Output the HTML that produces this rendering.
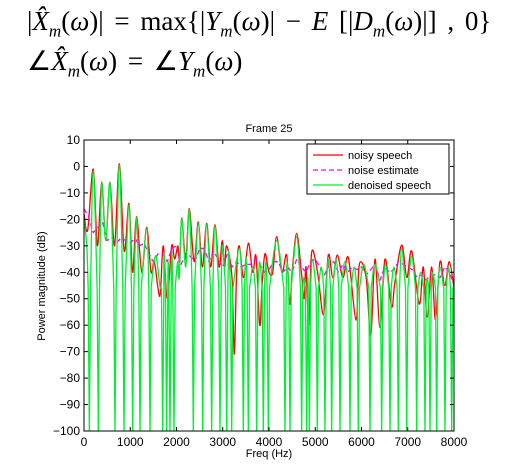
<!DOCTYPE html>
<html><head><meta charset="utf-8"><style>
body{margin:0;background:#fff;width:513px;height:468px;overflow:hidden}
.eq{position:absolute;left:27px;font-family:"Liberation Serif",serif;font-size:27px;color:#000;white-space:nowrap;word-spacing:4px}
.eq sub{font-size:17px}
</style></head><body>
<div class="eq" style="top:6px">|<i>X̂<sub>m</sub></i>(<i>ω</i>)| = max{|<i>Y<sub>m</sub></i>(<i>ω</i>)| − <i>E</i> [|<i>D<sub>m</sub></i>(<i>ω</i>)|] , 0}</div>
<div class="eq" style="top:46px">∠<i>X̂<sub>m</sub></i>(<i>ω</i>) = ∠<i>Y<sub>m</sub></i>(<i>ω</i>)</div>
<svg id="chart" width="513" height="468" style="position:absolute;left:0;top:0" font-family="Liberation Sans, sans-serif"></svg>
<script>
const xTicks=[0,1000,2000,3000,4000,5000,6000,7000,8000];
const yTicks=[10,0,-10,-20,-30,-40,-50,-60,-70,-80,-90,-100];
const noisyFreq=[0,80,200,290,382,470,562,660,764,870,973,1050,1137,1250,1355,1450,1520,1600,1650,1715,1800,1895,1960,2030,2070,2112,2200,2277,2380,2472,2560,2652,2740,2832,2920,2990,3040,3085,3200,3250,3300,3358,3450,3553,3650,3720,3800,3850,3913,4000,4080,4166,4280,4382,4450,4500,4598,4700,4760,4800,4860,4922,5050,5180,5282,5380,5477,5600,5715,5880,5953,6100,6200,6292,6400,6508,6650,6720,6869,6980,7085,7250,7336,7420,7517,7600,7697,7800,7898,8000];
const noisyVal=[-18,-24,-1,-30,-6,-28,-6,-30,1,-32,-14,-40,-19,-40,-23,-40,-36,-46,-48,-30,-50,-30,-35,-30,-36,-19.5,-35,-16,-36,-21,-38,-21.5,-38,-22,-38,-28,-38,-30,-42,-71,-40,-30,-42,-29,-40,-34,-60,-45,-33,-40,-40,-26.5,-40,-33.5,-52,-40,-25.3,-40,-50,-38,-60,-32.5,-40,-56,-33.5,-42,-33.5,-42,-34.5,-58,-37,-42,-64,-35,-61,-35,-53,-44,-29.7,-42,-32,-52,-38,-57,-38,-58,-36,-45,-36,-46];
const noiseFreq=[0,100,200,300,400,500,600,700,800,900,1000,1100,1200,1300,1400,1500,1600,1700,1800,1900,2000,2100,2200,2300,2400,2500,2600,2700,2800,2900,3000,3100,3200,3300,3400,3500,3600,3700,3800,3900,4000,4100,4200,4300,4400,4500,4600,4700,4800,4900,5000,5100,5200,5300,5400,5500,5600,5700,5800,5900,6000,6100,6200,6300,6400,6500,6600,6700,6800,6900,7000,7100,7200,7300,7400,7500,7600,7700,7800,7900,8000];
const noiseVal=[-16,-19,-25,-23,-21,-28,-27,-29,-27,-28,-29,-27,-30,-29,-33,-36,-33,-33,-36,-31,-30,-37,-33,-34,-36,-31,-31,-36,-32,-35,-38,-33,-38,-36,-38,-37,-37,-35,-37,-40,-39,-36,-36,-40,-38,-40,-35,-38,-40,-36,-35,-38,-41,-37,-36,-40,-37,-40,-38,-39,-38,-41,-39,-37,-43,-38,-40,-39,-36,-37,-38,-39,-42,-41,-43,-41,-41,-42,-38,-40,-45];
const denoisedFreq=[0,60,116,200,310,382,470,562,670,764,865,973,1052,1137,1211,1355,1427,1500,1560,1640,1701,1730,1787,1820,1860,1900,1946,2000,2030,2060,2112,2200,2277,2364,2472,2566,2652,2760,2832,2940,2990,3040,3085,3130,3193,3358,3445,3500,3553,3650,3733,3800,3877,3930,3985,4166,4346,4390,4454,4598,4706,4750,4814,4840,4872,4940,5045,5130,5210,5282,5355,5450,5535,5640,5751,5840,5931,6050,6184,6292,6436,6520,6616,6700,6796,6869,6977,7085,7193,7280,7373,7420,7481,7540,7625,7697,7805,7880,7950,8000];
const denoisedVal=[-20,-30,-100,-1.5,-100,-6.5,-28,-6.5,-100,0.5,-100,-14.5,-100,-19.5,-100,-23.5,-100,-38,-34,-45,-100,-33,-100,-36,-100,-32,-100,-40,-36,-42,-20,-38,-16.5,-100,-21.5,-100,-22,-100,-22.5,-100,-30,-40,-100,-32,-100,-31,-100,-34,-100,-38,-100,-36,-100,-36,-100,-28,-100,-36,-100,-26.5,-100,-42,-100,-42,-100,-35,-100,-38,-100,-35,-100,-35,-100,-36,-100,-38,-100,-37,-100,-37,-100,-37,-100,-38,-100,-31,-100,-34,-100,-40,-100,-42,-100,-40,-100,-38,-100,-38,-100,-45];

const L=84,R=454,T=140,B=431;
const sx=f=>L+(f-0)/8000*(R-L);
const sy=v=>T+(10-v)/110*(B-T);
const svg=document.getElementById('chart');
const NS='http://www.w3.org/2000/svg';
function mk(tag,attrs,parent){const e=document.createElementNS(NS,tag);for(const k in attrs)e.setAttribute(k,attrs[k]);(parent||svg).appendChild(e);return e;}
mk('rect',{x:L,y:T,width:R-L,height:B-T,fill:'#fff'});
const defs=mk('defs',{});const cp=mk('clipPath',{id:'clip'},defs);mk('rect',{x:L,y:T,width:R-L,height:B-T},cp);
const plot=mk('g',{'clip-path':'url(#clip)'});
function buildPts(fr,vals){
  const pts=[];
  fr.forEach((f,i)=>{const x=sx(f),v=vals[i];
    if(v<=-100){pts.push([x-1.2,sy(-46),0]);pts.push([x,B+3,1]);pts.push([x+1.2,sy(-46),0]);}
    else pts.push([x,sy(v),0]);});
  return pts;
}
function smoothD(pts){
  let d='M'+pts[0][0].toFixed(2)+' '+pts[0][1].toFixed(2);
  for(let i=0;i<pts.length-1;i++){
    const p1=pts[i],p2=pts[i+1];
    if(p1[2]||p2[2]){d+=' L'+p2[0].toFixed(2)+' '+p2[1].toFixed(2);continue;}
    let p0=pts[i-1]||p1; if(p0[2])p0=p1;
    let p3=pts[i+2]||p2; if(p3[2])p3=p2;
    const c1x=p1[0]+(p2[0]-p0[0])/6,c1y=p1[1]+(p2[1]-p0[1])/6;
    const c2x=p2[0]-(p3[0]-p1[0])/6,c2y=p2[1]-(p3[1]-p1[1])/6;
    d+=' C'+c1x.toFixed(2)+' '+c1y.toFixed(2)+' '+c2x.toFixed(2)+' '+c2y.toFixed(2)+' '+p2[0].toFixed(2)+' '+p2[1].toFixed(2);
  }
  return d;
}
function line(fr,vals,color,dash,name,smooth){
  let d;
  if(smooth) d=smoothD(buildPts(fr,vals));
  else d=fr.map((f,i)=>(i?'L':'M')+sx(f).toFixed(2)+' '+sy(vals[i]).toFixed(2)).join(' ');
  const p=mk('path',{d:d,fill:'none',stroke:color,'stroke-width':1.3,'stroke-linejoin':'round'},plot);
  if(dash)p.setAttribute('stroke-dasharray',dash);
  
  
}
line(noisyFreq,noisyVal,'#ff0000',null,'noisy-speech-line',true);
line(noiseFreq,noiseVal,'#ff00ff','5 3','noise-estimate-line',false);
line(denoisedFreq,denoisedVal,'#00ee33',null,'denoised-speech-line',true);
mk('rect',{x:L,y:T,width:R-L,height:B-T,fill:'none',stroke:'#000','stroke-width':1});
xTicks.forEach(t=>{const x=sx(t);
  mk('line',{x1:x,x2:x,y1:B,y2:B-4,stroke:'#000'});mk('line',{x1:x,x2:x,y1:T,y2:T+4,stroke:'#000'});
  const tx=mk('text',{x:x,y:B+15,'font-size':12,'text-anchor':'middle'});tx.textContent=t;
  
  });
yTicks.forEach(t=>{const y=sy(t);
  mk('line',{x1:L,x2:L+4,y1:y,y2:y,stroke:'#000'});mk('line',{x1:R,x2:R-4,y1:y,y2:y,stroke:'#000'});
  const tx=mk('text',{x:L-4,y:y+4,'font-size':12,'text-anchor':'end'});tx.textContent=String(t).replace('-','\u2212');
  
  });
let t1=mk('text',{x:269,y:132,'font-size':11,'text-anchor':'middle'});t1.textContent='Frame 25';


let t2=mk('text',{x:269,y:457,'font-size':11,'text-anchor':'middle'});t2.textContent='Freq (Hz)';


let t3=mk('text',{x:0,y:0,'font-size':11,'text-anchor':'middle',transform:'translate(45,286) rotate(-90)'});t3.textContent='Power magnitude (dB)';


const lg=mk('g',{});


mk('rect',{x:307,y:144,width:142,height:50,fill:'#fff',stroke:'#000'},lg);
[['noisy speech','#ff0000',null],['noise estimate','#ff00ff','5 3'],['denoised speech','#00ee33',null]].forEach((e,i)=>{
  const y=155+i*15;
  const ln=mk('line',{x1:313,x2:343,y1:y,y2:y,stroke:e[1],'stroke-width':1.3},lg);
  if(e[2])ln.setAttribute('stroke-dasharray',e[2]);
  const tx=mk('text',{x:348,y:y+4,'font-size':11},lg);tx.textContent=e[0];
  
  
});
</script>
</body></html>
